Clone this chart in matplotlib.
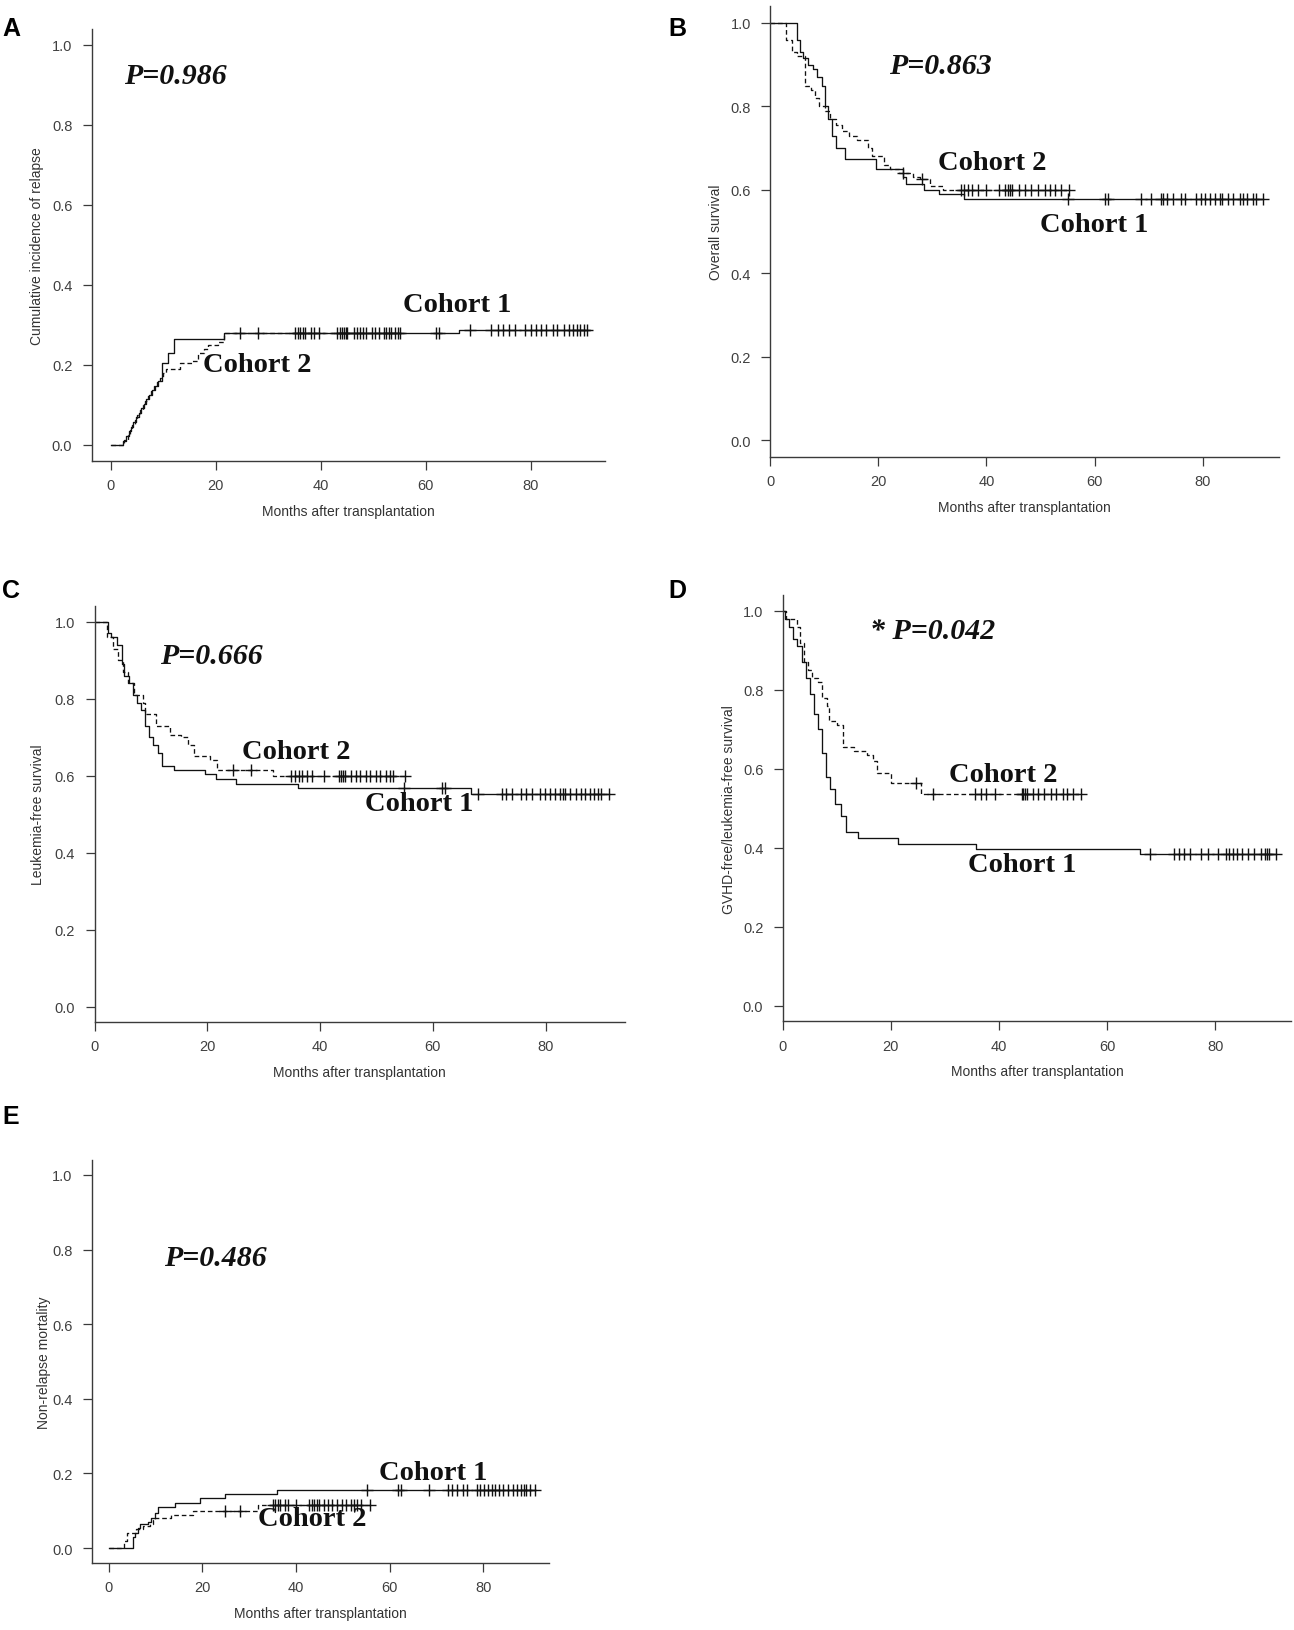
import numpy as np
import matplotlib
matplotlib.use("Agg")
import matplotlib.pyplot as plt

W, H = 1294, 1631

# ---- data (months, probability) ----
# A: cumulative incidence of relapse
a1_t = [0, 2.4, 3.0, 3.4, 3.8, 4.3, 4.8, 5.3, 5.8, 6.3, 6.8, 7.3, 7.8, 8.4, 9.0, 9.8, 10.9, 12.1, 21.5, 66.4, 91.3]
a1_y = [0, 0.011, 0.022, 0.036, 0.046, 0.058, 0.069, 0.08, 0.092, 0.103, 0.114, 0.125, 0.137, 0.148, 0.16,
        0.205, 0.23, 0.265, 0.279, 0.2875, 0.2875]
a1_c = [35.2, 36.0, 37.1, 38.2, 39.6, 45.1, 46.3, 47.5, 48.6, 49.8, 52.0, 53.4, 61.9, 62.5, 68.5, 72.4, 73.8,
        74.8, 75.9, 77.0, 79.0, 80.0, 81.1, 82.0, 83.0, 84.2, 85.0, 86.3, 87.3, 88.0, 88.8, 89.4, 90.1, 90.8]
a2_t = [0, 2.6, 3.2, 3.6, 4.1, 4.6, 5.1, 5.6, 6.1, 6.6, 7.1, 7.6, 8.2, 8.8, 9.4, 10.0, 10.6, 13.2, 15.5, 16.6,
        17.7, 18.5, 20.4, 21.5, 55.2]
a2_y = [0, 0.012, 0.025, 0.037, 0.05, 0.062, 0.075, 0.087, 0.1, 0.11, 0.122, 0.135, 0.147, 0.158, 0.168, 0.18,
        0.19, 0.204, 0.21, 0.23, 0.24, 0.25, 0.258, 0.279, 0.279]
a2_c = [24.6, 28.0, 35.6, 36.6, 38.8, 43.2, 43.6, 44.0, 44.4, 44.8, 46.9, 48.1, 50.3, 51.2, 52.5, 53.0, 54.1,
        54.7, 55.2]

# B: overall survival
b1_t = [0, 5.0, 5.5, 6.0, 6.9, 8.0, 8.7, 9.5, 10.1, 10.6, 11.4, 12.2, 13.9, 19.5, 24.6, 25.2, 28.4, 31.2, 35.8, 91.2]
b1_y = [1.0, 0.96, 0.93, 0.915, 0.90, 0.89, 0.87, 0.85, 0.80, 0.77, 0.73, 0.70, 0.675, 0.65, 0.63, 0.615, 0.60,
        0.59, 0.578, 0.578]
b1_c = [55.0, 61.9, 62.5, 68.6, 70.5, 72.3, 72.7, 73.3, 74.5, 75.9, 76.7, 78.8, 79.6, 80.5, 81.3, 82.3, 83.1,
        83.5, 84.6, 85.6, 86.8, 87.5, 88.2, 89.3, 89.9, 91.2]
b2_t = [0, 3.0, 4.0, 5.0, 6.4, 7.5, 8.3, 9.1, 10.2, 11.0, 12.2, 13.3, 14.5, 16.0, 18.0, 18.8, 21.1, 22.2, 23.8,
        26.5, 27.7, 29.6, 31.9, 55.2]
b2_y = [1.0, 0.96, 0.93, 0.92, 0.85, 0.84, 0.82, 0.80, 0.79, 0.77, 0.755, 0.74, 0.73, 0.72, 0.70, 0.68, 0.66,
        0.65, 0.64, 0.63, 0.625, 0.61, 0.60, 0.60]
b2_c = [24.5, 28.0, 35.3, 35.9, 36.6, 37.4, 38.4, 40.0, 42.3, 43.5, 43.9, 44.3, 44.7, 46.0, 47.1, 48.2, 49.6,
        50.8, 51.8, 52.6, 53.7, 55.2]

# C: leukemia-free survival
c1_t = [0, 2.4, 3.0, 4.0, 4.8, 5.3, 6.1, 6.8, 7.5, 8.2, 8.9, 9.6, 10.3, 11.2, 12.0, 14.1, 19.6, 21.5, 25.0,
        36.0, 66.7, 91.2]
c1_y = [1.0, 0.97, 0.96, 0.94, 0.89, 0.86, 0.84, 0.81, 0.79, 0.77, 0.73, 0.70, 0.68, 0.66, 0.625, 0.615, 0.605,
        0.59, 0.578, 0.567, 0.553, 0.553]
c1_c = [54.8, 61.6, 62.1, 68.0, 72.2, 73.0, 74.0, 75.7, 76.5, 77.5, 78.9, 79.8, 80.8, 81.6, 82.5, 83.0, 83.4,
        84.3, 85.3, 86.2, 87.0, 87.9, 88.5, 89.3, 89.8, 91.2]
c2_t = [0, 2.2, 3.3, 4.1, 5.0, 6.0, 7.0, 8.6, 9.0, 10.9, 13.3, 15.4, 16.5, 17.6, 20.4, 21.8, 31.6, 55.1]
c2_y = [1.0, 0.96, 0.93, 0.90, 0.87, 0.84, 0.81, 0.79, 0.76, 0.73, 0.705, 0.70, 0.68, 0.65, 0.64, 0.614, 0.60, 0.60]
c2_c = [24.6, 27.8, 34.9, 35.6, 36.2, 36.8, 37.6, 38.6, 40.6, 43.3, 43.7, 44.1, 44.5, 45.4, 46.3, 47.0, 48.1,
        48.8, 49.9, 50.7, 51.6, 52.4, 53.0, 55.1]

# D: GVHD-free/leukemia-free survival
d1_t = [0, 0.4, 1.2, 1.9, 2.7, 3.5, 4.2, 5.0, 5.8, 6.6, 7.3, 7.9, 8.8, 9.6, 10.8, 11.6, 13.9, 21.3, 35.8, 66.0, 91.2]
d1_y = [1.0, 0.98, 0.96, 0.93, 0.91, 0.87, 0.83, 0.79, 0.74, 0.70, 0.64, 0.58, 0.55, 0.51, 0.48, 0.44, 0.425,
        0.41, 0.397, 0.385, 0.385]
d1_c = [68.0, 72.3, 73.2, 74.3, 75.4, 77.4, 78.6, 80.5, 82.0, 82.5, 83.2, 84.0, 85.0, 86.0, 87.2, 88.4, 89.2,
        89.6, 90.0, 91.2]
d2_t = [0, 0.5, 2.7, 3.1, 3.9, 4.6, 5.4, 6.6, 7.3, 8.1, 8.5, 10.0, 11.2, 13.1, 15.5, 16.6, 17.4, 20.1, 25.5, 55.1]
d2_y = [1.0, 0.98, 0.96, 0.92, 0.87, 0.85, 0.83, 0.82, 0.78, 0.76, 0.72, 0.71, 0.655, 0.645, 0.635, 0.62, 0.59,
        0.565, 0.537, 0.537]
d2_c = [24.7, 27.8, 35.5, 36.6, 37.6, 39.2, 44.2, 44.5, 44.8, 45.2, 46.3, 47.2, 48.3, 49.6, 50.5, 51.8, 52.5,
        53.6, 55.1]

# E: non-relapse mortality
e1_t = [0, 5.1, 5.6, 6.3, 6.6, 8.4, 9.1, 9.8, 10.6, 14.1, 19.5, 24.9, 35.9, 91.2]
e1_y = [0, 0.03, 0.04, 0.055, 0.065, 0.07, 0.08, 0.095, 0.11, 0.12, 0.135, 0.145, 0.155, 0.155]
e1_c = [55.2, 61.9, 62.4, 68.5, 72.5, 73.4, 74.4, 75.7, 76.5, 78.6, 79.4, 80.3, 81.0, 82.0, 82.5, 83.3, 84.3,
        85.3, 86.4, 87.3, 88.1, 88.7, 89.2, 90.0, 91.2]
e2_t = [0, 3.2, 4.0, 5.9, 7.4, 8.8, 9.5, 9.9, 13.4, 17.9, 32.0, 55.9]
e2_y = [0, 0.02, 0.04, 0.05, 0.06, 0.065, 0.075, 0.08, 0.088, 0.10, 0.115, 0.115]
e2_c = [24.9, 28.1, 35.1, 35.6, 36.1, 36.7, 37.6, 38.4, 40.0, 42.9, 43.4, 43.9, 44.4, 45.0, 45.9, 46.9, 47.8,
        48.7, 49.9, 50.8, 51.8, 52.5, 53.1, 53.9, 55.9]

ylabels = ["Cumulative incidence of relapse", "Overall survival", "Leukemia-free survival",
           "GVHD-free/leukemia-free survival", "Non-relapse mortality"]
pvals = ["P=0.986", "P=0.863", "P=0.666", "* P=0.042", "P=0.486"]
letters = ["A", "B", "C", "D", "E"]
xticks = [0, 20, 40, 60, 80]
yticks = [0.0, 0.2, 0.4, 0.6, 0.8, 1.0]

# layout in pixels: left, right, top, bottom, xlim, ylabel x
panels = [
    (91.7, 604.7, 29.5, 462, (-3.62, 94.1), 37.5),
    (770.2, 1278.5, 7.3, 457.7, (0, 94), 716),
    (94.5, 624.7, 607.3, 1022.9, (0, 94), 38),
    (782.8, 1291, 596.2, 1022.3, (0, 94), 729),
    (91.9, 548.6, 1161, 1564, (-3.6, 94), 44),
]
letter_pos = [(2, 29), (668, 29), (2, 591), (668, 591), (2, 1117)]
p_pos = [(175, 76), (940, 66), (211, 657), (933, 632), (215, 1259)]
c1_pos = [(457, 305), (1094, 226), (419, 805), (1022, 866), (433, 1474)]
c2_pos = [(257, 366), (992, 163), (296, 753), (1003, 776), (312, 1520)]

curves = [
    (a1_t, a1_y, a1_c, a2_t, a2_y, a2_c),
    (b1_t, b1_y, b1_c, b2_t, b2_y, b2_c),
    (c1_t, c1_y, c1_c, c2_t, c2_y, c2_c),
    (d1_t, d1_y, d1_c, d2_t, d2_y, d2_c),
    (e1_t, e1_y, e1_c, e2_t, e2_y, e2_c),
]

plt.rcParams['font.family'] = ['Liberation Sans', 'DejaVu Sans']
fig = plt.figure(figsize=(W / 100, H / 100), dpi=100)

ink = '#111111'
gray = '#3a3a3a'


def step_at(t, y, x):
    idx = np.searchsorted(np.asarray(t), np.asarray(x), side='right') - 1
    return np.asarray(y)[idx]


def draw_curve(ax, t, y, cens, ls):
    ax.step(t, y, where='post', color=ink, lw=0.95, linestyle=ls)
    ax.plot(cens, step_at(t, y, cens), linestyle='none', marker='+', ms=8, mew=1.0, color=ink)


def fx(px):
    return px / W


def fy(py):
    return 1 - py / H


for i, (left, right, top, bottom, xlim, ylx) in enumerate(panels):
    ax = fig.add_axes([fx(left), fy(bottom), (right - left) / W, (bottom - top) / H])
    t1, y1, k1, t2, y2, k2 = curves[i]
    draw_curve(ax, t1, y1, k1, '-')
    draw_curve(ax, t2, y2, k2, (0, (3.5, 2.2)))

    ax.set_xlim(*xlim)
    ax.set_ylim(-0.04, 1.04)
    ax.set_xticks(xticks)
    ax.set_yticks(yticks)
    ax.set_yticklabels([f"{v:.1f}" for v in yticks])
    for s in ['top', 'right']:
        ax.spines[s].set_visible(False)
    for s in ['left', 'bottom']:
        ax.spines[s].set_color(gray)
        ax.spines[s].set_linewidth(1.0)
    ax.tick_params(direction='out', length=6.5, width=0.9, color=gray, labelcolor='#404040',
                   labelsize=10.5, pad=6)
    ax.tick_params(axis='y', pad=7.5)

    width = right - left
    height = bottom - top
    ax.set_xlabel("Months after transplantation", fontsize=10, color='#333333')
    ax.xaxis.set_label_coords(0.5, -50 / height)
    ax.xaxis.label.set_va('center')
    ax.set_ylabel(ylabels[i], fontsize=10, color='#333333')
    ax.yaxis.set_label_coords((ylx - left) / width, 0.5)
    ax.yaxis.label.set_va('center')

    lx, ly = letter_pos[i]
    fig.text(fx(lx), fy(ly), letters[i], fontsize=18, fontweight='bold', ha='left', va='center', color='black')
    px, py = p_pos[i]
    fig.text(fx(px), fy(py), pvals[i], family='Liberation Serif', fontsize=21.5, fontweight='bold',
             style='italic', ha='center', va='center', color=ink)
    cx, cy = c1_pos[i]
    fig.text(fx(cx), fy(cy), "Cohort 1", family='Liberation Serif', fontsize=20.5, fontweight='bold',
             ha='center', va='center', color=ink)
    cx, cy = c2_pos[i]
    fig.text(fx(cx), fy(cy), "Cohort 2", family='Liberation Serif', fontsize=20.5, fontweight='bold',
             ha='center', va='center', color=ink)

fig.savefig("out.png", dpi=100)
